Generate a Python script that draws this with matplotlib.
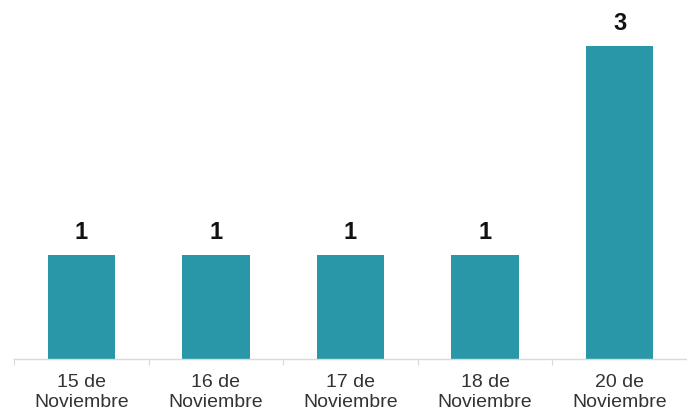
import matplotlib
matplotlib.use("Agg")
import matplotlib.pyplot as plt

categories = ["15 de\nNoviembre", "16 de\nNoviembre", "17 de\nNoviembre",
              "18 de\nNoviembre", "20 de\nNoviembre"]
values = [1, 1, 1, 1, 3]

plt.rcParams['font.family'] = ['Liberation Sans', 'DejaVu Sans']

fig = plt.figure(figsize=(6.87, 4.15), dpi=100)
ax = fig.add_axes([14 / 687, 56 / 415, 673 / 687, 359 / 415])

x = list(range(len(values)))
bars = ax.bar(x, values, width=0.5, color='#2A97A8', zorder=2)

for b, v in zip(bars, values):
    ax.annotate(str(v), (b.get_x() + b.get_width() / 2, v),
                xytext=(0, 8), textcoords='offset points',
                ha='center', va='bottom', fontsize=17, fontweight='bold',
                color='#111111')

ax.set_xlim(-0.5, -0.5 + 673 / 137.25)
ax.set_ylim(0, 359 / 104.3)

for s in ['top', 'right', 'left']:
    ax.spines[s].set_visible(False)
ax.spines['bottom'].set_color('#d9d9d9')
ax.spines['bottom'].set_linewidth(1)

ax.set_yticks([])
ax.set_xticks([i - 0.5 for i in range(len(values) + 1)], minor=False)
ax.set_xticklabels([])
ax.tick_params(axis='x', which='major', length=4, color='#d9d9d9')
ax.set_xticks(x, minor=True)
ax.set_xticklabels(categories, minor=True, fontsize=14, color='#333333',
                   linespacing=1.2)
ax.tick_params(axis='x', which='minor', length=0, pad=11)

fig.savefig("out.png", dpi=100)
